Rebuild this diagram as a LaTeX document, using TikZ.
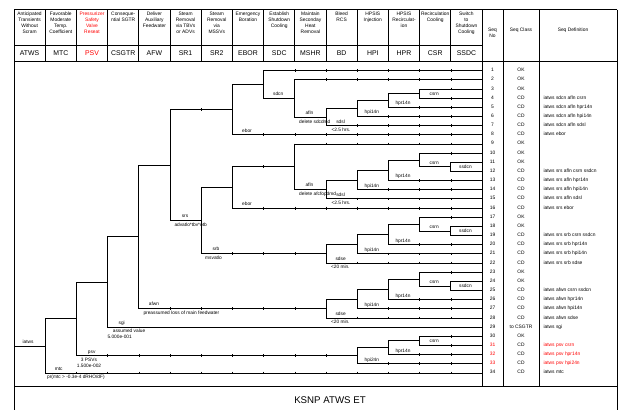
\documentclass[tikz,border=0pt]{standalone}
\usepackage{fontspec}
\setmainfont{Liberation Sans}
\usetikzlibrary{calc}
\tikzset{
  br/.style={line width=0.9pt, draw=black, line cap=rect},
  tick/.style={line width=0.55pt, draw=black},
  fr/.style={line width=0.75pt, draw=black},
  lab/.style={font=\fontsize{4.8}{5.6}\selectfont, inner sep=0pt, text height=3.4pt, text depth=0.9pt},
  labw/.style={lab, anchor=west},
  hd/.style={font=\fontsize{4.9}{5.8}\selectfont, inner sep=0pt, align=center, anchor=north},
  code/.style={font=\fontsize{6.9}{8}\selectfont, inner sep=0pt, text height=5pt, text depth=0.2pt},
  sq/.style={font=\fontsize{4.9}{5.6}\selectfont, inner sep=0pt, text height=3.5pt, text depth=0.9pt},
}
\newcommand{\etline}[3]{%
  \draw[br] (c#1 |- #3) -- (c#2 |- #3);
  \pgfmathtruncatemacro{\tka}{#1+1}%
  \pgfmathtruncatemacro{\tkb}{#2-1}%
  \ifnum\tka>\tkb\relax\else
    \foreach \tk in {\tka,...,\tkb}{\draw[tick] ($(c\tk |- #3)+(0,-1.4)$) -- ($(c\tk |- #3)+(0,1.4)$);}%
  \fi}
\newcommand{\etvs}[3]{\draw[br] (c#1 |- #2) -- (c#1 |- #3);}
\newcommand{\etlab}[4]{\node[lab] (#1) at ($(c#2 |- #3)+(14.6,-3.9)$) {#4};}
\begin{document}
\begin{tikzpicture}[x=1pt,y=-1pt]
\useasboundingbox (0,0) rectangle (618,410);
\foreach \i in {0,...,15}{\coordinate (c\i) at ({14+31.2*\i},0);}
\foreach \k in {1,...,34}{\coordinate (r\k) at (482,{70.7+(\k-1)*9.16});}

% ---------- frame ----------
\draw[fr] (14,9.5) -- (617.3,9.5);
\draw[fr] (14,9.5) -- (14,410);
\draw[fr] (617.3,9.5) -- (617.3,410);
\draw[fr] (14,45) -- (482,45);
\draw[fr] (14,61) -- (617.3,61);
\draw[fr] (14,386) -- (617.3,386);
\foreach \i in {1,...,14}{\draw[fr] ({14+31.2*\i},9.5) -- ({14+31.2*\i},61);}
\foreach \xx in {482,503,539}{\draw[fr] (\xx,9.5) -- (\xx,386);}

% ---------- header ----------
\node[hd] (h0) at (29.6,12.2) {Anticipated\\Transients\\Without\\Scram};
\node[hd] (h1) at (60.8,12.2) {Favorable\\Moderate\\Temp.\\Coefficient};
\node[hd,text=red] (h2) at (92,12.2) {Pressurizer\\Safety\\Valve\\Reseat};
\node[hd] (h3) at (123.2,12.2) {Conseque-\\ntial SGTR};
\node[hd] (h4) at (154.4,12.2) {Deliver\\Auxiliary\\Feedwater};
\node[hd] (h5) at (185.6,12.2) {Steam\\Removal\\via TBVs\\or ADVs};
\node[hd] (h6) at (216.8,12.2) {Steam\\Removal\\via\\MSSVs};
\node[hd] (h7) at (248,12.2) {Emergency\\Boration};
\node[hd] (h8) at (279.2,12.2) {Establish\\Shutdown\\Cooling};
\node[hd] (h9) at (310.4,12.2) {Maintain\\Seconday\\Heat\\Removal};
\node[hd] (h10) at (341.6,12.2) {Bleed\\RCS};
\node[hd] (h11) at (372.8,12.2) {HPSIS\\Injection};
\node[hd] (h12) at (404,12.2) {HPSIS\\Recirculat-\\ion};
\node[hd] (h13) at (435.2,12.2) {Recirculation\\Cooling};
\node[hd] (h14) at (466.4,12.2) {Switch\\to\\Shutdown\\Cooling};
\node[hd] (hsn) at (492.5,28) {Seq\\No};
\node[hd] (hsc) at (521,28) {Seq Class};
\node[hd] (hsd) at (573,28) {Seq Definition};

\foreach \i/\t in {0/ATWS,1/MTC,3/CSGTR,4/AFW,5/SR1,6/SR2,7/EBOR,8/SDC,9/MSHR,10/BD,11/HPI,12/HPR,13/CSR,14/SSDC}
  {\node[code] (k\i) at ({14+31.2*(\i+0.5)},53) {\t};}
\node[code,text=red] (k2) at (92,53) {PSV};

% ---------- tree nodes (midpoint rule) ----------
\coordinate (t-csr) at ($(r3)!.5!(r4)$);
\coordinate (t-hpr) at ($(t-csr)!.5!(r5)$);
\coordinate (t-hpi) at ($(t-hpr)!.5!(r6)$);
\coordinate (t-bd) at ($(t-hpi)!.5!(r7)$);
\coordinate (t-mshr) at ($(r2)!.5!(t-bd)$);
\coordinate (t-sdc) at ($(r1)!.5!(t-mshr)$);
\coordinate (t-ebor) at ($(t-sdc)!.5!(r8)$);
\coordinate (s-ssdc) at ($(r11)!.5!(r12)$);
\coordinate (s-csr) at ($(r10)!.5!(s-ssdc)$);
\coordinate (s-hpr) at ($(s-csr)!.5!(r13)$);
\coordinate (s-hpi) at ($(s-hpr)!.5!(r14)$);
\coordinate (s-bd) at ($(s-hpi)!.5!(r15)$);
\coordinate (s-mshr) at ($(r9)!.5!(s-bd)$);
\coordinate (s-ebor) at ($(s-mshr)!.5!(r16)$);
\coordinate (b-ssdc) at ($(r18)!.5!(r19)$);
\coordinate (b-csr) at ($(r17)!.5!(b-ssdc)$);
\coordinate (b-hpr) at ($(b-csr)!.5!(r20)$);
\coordinate (b-hpi) at ($(b-hpr)!.5!(r21)$);
\coordinate (b-bd) at ($(b-hpi)!.5!(r22)$);
\coordinate (s-sr2) at ($(s-ebor)!.5!(b-bd)$);
\coordinate (n-sr1) at ($(t-ebor)!.5!(s-sr2)$);
\coordinate (a-ssdc) at ($(r24)!.5!(r25)$);
\coordinate (a-csr) at ($(r23)!.5!(a-ssdc)$);
\coordinate (a-hpr) at ($(a-csr)!.5!(r26)$);
\coordinate (a-hpi) at ($(a-hpr)!.5!(r27)$);
\coordinate (a-bd) at ($(a-hpi)!.5!(r28)$);
\coordinate (n-afw) at ($(n-sr1)!.5!(a-bd)$);
\coordinate (n-csgtr) at ($(n-afw)!.5!(r29)$);
\coordinate (p-csr) at ($(r30)!.5!(r31)$);
\coordinate (p-hpr) at ($(p-csr)!.5!(r32)$);
\coordinate (p-hpi) at ($(p-hpr)!.5!(r33)$);
\coordinate (n-psv) at ($(n-csgtr)!.5!(p-hpi)$);
\coordinate (n-mtc) at ($(n-psv)!.5!(r34)$);

% ---------- horizontal branches ----------
\etline{0}{1}{n-mtc}
\etline{1}{2}{n-psv} \etline{1}{15}{r34}
\etline{2}{3}{n-csgtr} \etline{2}{11}{p-hpi}
\etline{3}{4}{n-afw} \draw[br] (c3 |- r29) -- (c15 |- r29);
\etline{4}{5}{n-sr1} \etline{4}{10}{a-bd}
\etline{5}{7}{t-ebor} \etline{5}{6}{s-sr2}
\etline{6}{7}{s-ebor} \etline{6}{10}{b-bd}
\etline{7}{8}{t-sdc} \etline{7}{15}{r8}
\etline{8}{15}{r1} \etline{8}{9}{t-mshr}
\etline{9}{15}{r2} \etline{9}{10}{t-bd}
\etline{10}{11}{t-hpi} \etline{10}{15}{r7}
\etline{11}{12}{t-hpr} \etline{11}{15}{r6}
\etline{12}{13}{t-csr} \etline{12}{15}{r5}
\etline{13}{15}{r3} \etline{13}{15}{r4}
\etline{7}{9}{s-mshr} \etline{7}{15}{r16}
\etline{9}{15}{r9} \etline{9}{10}{s-bd}
\etline{10}{11}{s-hpi} \etline{10}{15}{r15}
\etline{11}{12}{s-hpr} \etline{11}{15}{r14}
\etline{12}{13}{s-csr} \etline{12}{15}{r13}
\etline{13}{15}{r10} \etline{13}{14}{s-ssdc}
\etline{14}{15}{r11} \etline{14}{15}{r12}
\etline{10}{11}{b-hpi} \etline{10}{15}{r22}
\etline{11}{12}{b-hpr} \etline{11}{15}{r21}
\etline{12}{13}{b-csr} \etline{12}{15}{r20}
\etline{13}{15}{r17} \etline{13}{14}{b-ssdc}
\etline{14}{15}{r18} \etline{14}{15}{r19}
\etline{10}{11}{a-hpi} \etline{10}{15}{r28}
\etline{11}{12}{a-hpr} \etline{11}{15}{r27}
\etline{12}{13}{a-csr} \etline{12}{15}{r26}
\etline{13}{15}{r23} \etline{13}{14}{a-ssdc}
\etline{14}{15}{r24} \etline{14}{15}{r25}
\etline{11}{12}{p-hpr} \etline{11}{15}{r33}
\etline{12}{13}{p-csr} \etline{12}{15}{r32}
\etline{13}{15}{r30} \etline{13}{15}{r31}

% ---------- vertical splits ----------
\etvs{1}{n-psv}{r34}
\etvs{2}{n-csgtr}{p-hpi}
\etvs{3}{n-afw}{r29}
\etvs{4}{n-sr1}{a-bd}
\etvs{5}{t-ebor}{s-sr2}
\etvs{6}{s-ebor}{b-bd}
\etvs{7}{t-sdc}{r8}
\etvs{8}{r1}{t-mshr}
\etvs{9}{r2}{t-bd}
\etvs{10}{t-hpi}{r7}
\etvs{11}{t-hpr}{r6}
\etvs{12}{t-csr}{r5}
\etvs{13}{r3}{r4}
\etvs{7}{s-mshr}{r16}
\etvs{9}{r9}{s-bd}
\etvs{10}{s-hpi}{r15}
\etvs{11}{s-hpr}{r14}
\etvs{12}{s-csr}{r13}
\etvs{13}{r10}{s-ssdc}
\etvs{14}{r11}{r12}
\etvs{10}{b-hpi}{r22}
\etvs{11}{b-hpr}{r21}
\etvs{12}{b-csr}{r20}
\etvs{13}{r17}{b-ssdc}
\etvs{14}{r18}{r19}
\etvs{10}{a-hpi}{r28}
\etvs{11}{a-hpr}{r27}
\etvs{12}{a-csr}{r26}
\etvs{13}{r23}{a-ssdc}
\etvs{14}{r24}{r25}
\etvs{11}{p-hpr}{r33}
\etvs{12}{p-csr}{r32}
\etvs{13}{r30}{r31}

% ---------- branch labels ----------
\node[lab] (l-iatws) at ($(c0 |- n-mtc)+(14,-3.9)$) {iatws};
\node[lab] (l-mtc) at ($(c1 |- r34)+(13.5,-3.9)$) {mtc};
\node[labw] (l-mtc2) at ($(c1 |- r34)+(1.8,4.5)$) {pr(mtc > -0.3e-4 dRHO/dF)};
\node[lab] (l-psv) at ($(c2 |- p-hpi)+(15.3,-3.9)$) {psv};
\node[lab] (l-psv2) at ($(c2 |- p-hpi)+(12.6,4.4)$) {3 PSVs};
\node[lab] (l-psv3) at ($(c2 |- p-hpi)+(12.6,10.1)$) {1.500e-002};
\node[lab] (l-sgi) at ($(c3 |- r29)+(14.1,-3.9)$) {sgi};
\node[labw] (l-sgi2) at ($(c3 |- r29)+(5.1,3.9)$) {assumed value};
\node[labw] (l-sgi3) at ($(c3 |- r29)+(-0.3,10.4)$) {5.000e-001};
\node[lab] (l-afwn) at ($(c4 |- a-bd)+(15.2,-3.9)$) {afwn};
\node[labw] (l-afwn2) at ($(c4 |- a-bd)+(4.5,4.6)$) {preassumed loss of main feedwater};
\node[lab] (l-srs) at ($(c5 |- s-sr2)+(15,-3.9)$) {srs};
\node[labw] (l-srs2) at ($(c5 |- s-sr2)+(4.3,4.4)$) {advatlo*tbv*otb};
\node[lab] (l-srb) at ($(c6 |- b-bd)+(14.8,-3.9)$) {srb};
\node[labw] (l-srb2) at ($(c6 |- b-bd)+(3.8,4.2)$) {msvatlo};

\etlab{l-ebor1}{7}{r8}{ebor}
\etlab{l-sdcn}{8}{t-mshr}{sdcn}
\etlab{l-afln1}{9}{t-bd}{afln}
\node[labw] (l-afln1b) at ($(c9 |- t-bd)+(4.2,4.7)$) {delete sdcdmd};
\etlab{l-sdsl1}{10}{r7}{sdsl}
\node[lab] (l-sdsl1b) at ($(c10 |- r7)+(15,4.4)$) {<2.5 hrs.};
\etlab{l-hpi1}{11}{r6}{hpi14n}
\etlab{l-hpr1}{12}{r5}{hpr14n}
\etlab{l-csr1}{13}{r4}{csrn}

\etlab{l-ebor2}{7}{r16}{ebor}
\etlab{l-afln2}{9}{s-bd}{afln}
\node[labw] (l-afln2b) at ($(c9 |- s-bd)+(4.2,4.7)$) {delete afcfopdmd};
\etlab{l-sdsl2}{10}{r15}{sdsl}
\node[lab] (l-sdsl2b) at ($(c10 |- r15)+(15,4.4)$) {<2.5 hrs.};
\etlab{l-hpi2}{11}{r14}{hpi14n}
\etlab{l-hpr2}{12}{r13}{hpr14n}
\etlab{l-csr2}{13}{s-ssdc}{csrn}
\etlab{l-ssdc2}{14}{r12}{ssdcn}

\etlab{l-sdse3}{10}{r22}{sdse}
\node[lab] (l-sdse3b) at ($(c10 |- r22)+(14.3,4.3)$) {<20 min.};
\etlab{l-hpi3}{11}{r21}{hpi14n}
\etlab{l-hpr3}{12}{r20}{hpr14n}
\etlab{l-csr3}{13}{b-ssdc}{csrn}
\etlab{l-ssdc3}{14}{r19}{ssdcn}

\etlab{l-sdse4}{10}{r28}{sdse}
\node[lab] (l-sdse4b) at ($(c10 |- r28)+(14.3,4.3)$) {<20 min.};
\etlab{l-hpi4}{11}{r27}{hpi14n}
\etlab{l-hpr4}{12}{r26}{hpr14n}
\etlab{l-csr4}{13}{a-ssdc}{csrn}
\etlab{l-ssdc4}{14}{r25}{ssdcn}

\etlab{l-hpi5}{11}{r33}{hpi24n}
\etlab{l-hpr5}{12}{r32}{hpr14n}
\etlab{l-csr5}{13}{r31}{csrn}

% ---------- sequence columns ----------
\foreach \k in {1,...,34}{%
  \ifnum\k>30\relax\ifnum\k<34\relax\def\sqc{red}\else\def\sqc{black}\fi\else\def\sqc{black}\fi
  \node[sq,text=\sqc] (sn\k) at ($(r\k)+(10.5,-0.3)$) {\k};}
\foreach \k/\cl in {1/OK,2/OK,3/OK,4/CD,5/CD,6/CD,7/CD,8/CD,9/OK,10/OK,11/OK,12/CD,13/CD,14/CD,15/CD,16/CD,17/OK,18/OK,19/CD,20/CD,21/CD,22/CD,23/OK,24/OK,25/CD,26/CD,27/CD,28/CD,29/to CSGTR,30/OK,31/CD,32/CD,33/CD,34/CD}
  {\node[sq] (sc\k) at ($(r\k)+(39,-0.3)$) {\cl};}
\foreach \k/\dd in {4/iatws sdcn afln csrn,5/iatws sdcn afln hpr14n,6/iatws sdcn afln hpi14n,7/iatws sdcn afln sdsl,8/iatws ebor,12/iatws srs afln csrn ssdcn,13/iatws srs afln hpr14n,14/iatws srs afln hpi14n,15/iatws srs afln sdsl,16/iatws srs ebor,19/iatws srs srb csrn ssdcn,20/iatws srs srb hpr14n,21/iatws srs srb hpi14n,22/iatws srs srb sdse,25/iatws afwn csrn ssdcn,26/iatws afwn hpr14n,27/iatws afwn hpi14n,28/iatws afwn sdse,29/iatws sgi,31/iatws psv csrn,32/iatws psv hpr14n,33/iatws psv hpi24n,34/iatws mtc}{%
  \ifnum\k>30\relax\ifnum\k<34\relax\def\sqc{red}\else\def\sqc{black}\fi\else\def\sqc{black}\fi
  \node[sq,anchor=west,text=\sqc] (sd\k) at ($(r\k)+(61.3,-0.3)$) {\dd};}

% ---------- title ----------
\node[font=\fontsize{9.7}{11}\selectfont, inner sep=0pt] (title) at (330,400.5) {KSNP ATWS ET};
\end{tikzpicture}
\end{document}
